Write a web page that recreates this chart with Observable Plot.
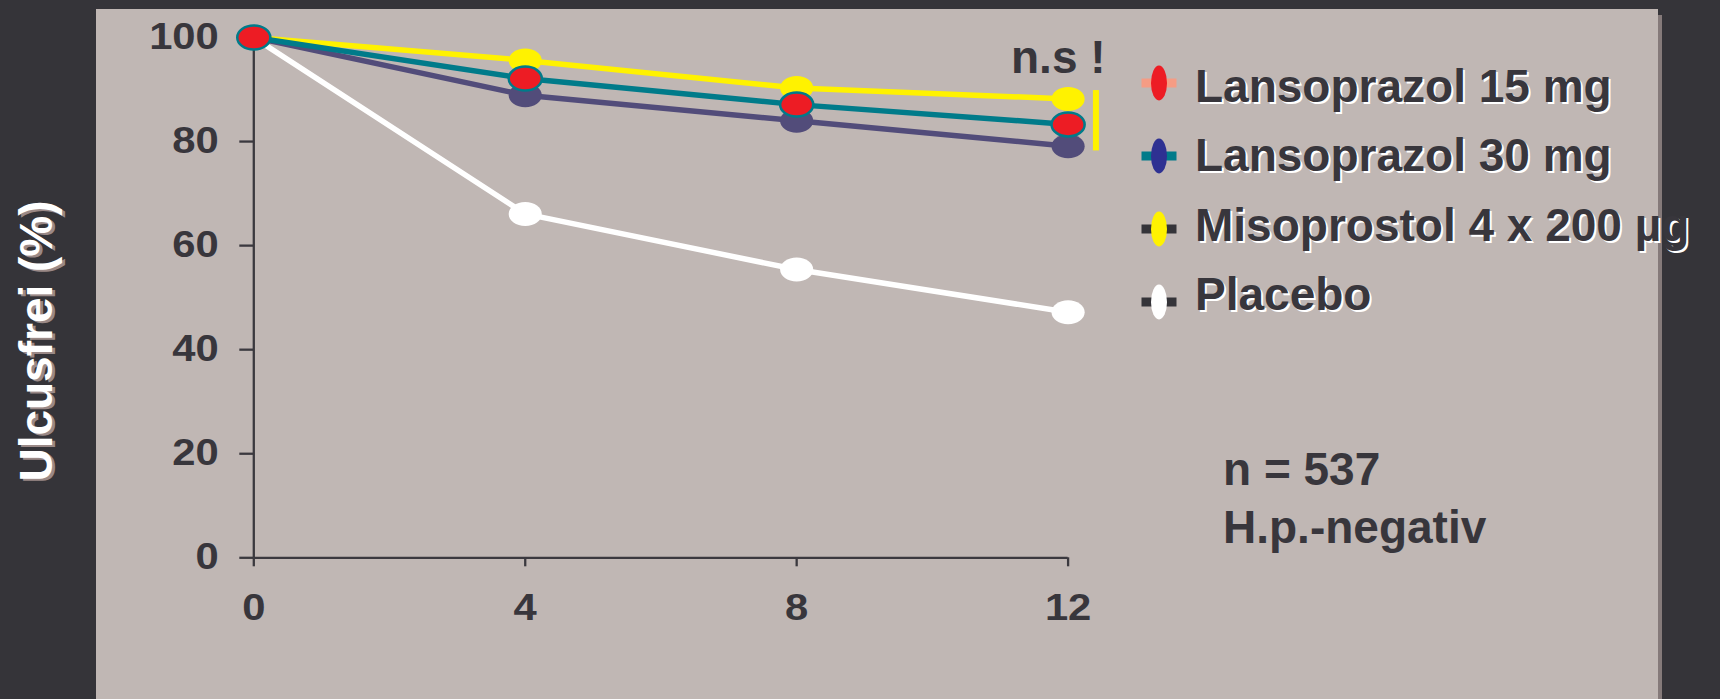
<!DOCTYPE html>
<html>
<head>
<meta charset="utf-8">
<script src="https://cdn.jsdelivr.net/npm/d3@7"></script>
<script src="https://cdn.jsdelivr.net/npm/@observablehq/plot@0.6"></script>
<style>
  html, body { margin: 0; padding: 0; background: #353439; }
  #stage { position: relative; width: 1720px; height: 699px; overflow: hidden; background: #353439;
           font-family: "Liberation Sans", Arial, Helvetica, sans-serif; font-weight: bold; }
  #panel { position: absolute; left: 96px; top: 9px; width: 1562px; height: 700px; background: #c0b7b4;
           box-shadow: 4px 6px 0 #857a7a; }
  #chart { position: absolute; left: 0; top: 0; }
  .note { position: absolute; font-size: 46px; line-height: 46px; color: #38363c; white-space: nowrap; }
  #ytitle { position: absolute; left: 36px; top: 341px; font-size: 46px; line-height: 46px; color: #fff;
            white-space: nowrap; transform: translate(-50%, -50%) rotate(-90deg);
            text-shadow: -2px 3px 0 #9a8987; }
  #legend { position: absolute; left: 0; top: 0; }
  .swatch { position: absolute; left: 1141px; }
  .ltext { position: absolute; left: 1195px; font-size: 46px; line-height: 46px; color: #38363c;
           white-space: nowrap; text-shadow: 2px 2px 0 #ffffff; }
</style>
</head>
<body>
<div id="stage">
  <div id="panel"></div>
  <div id="chart"></div>
  <div id="ytitle"></div>
  <div id="legend"></div>
  <div class="note" id="ns" style="left:1011px; top:34px;"></div>
  <div class="note" id="info1" style="left:1223px; top:446px;"></div>
  <div class="note" id="info2" style="left:1223px; top:504px;"></div>
</div>
<script>
// Weeks of treatment and share of patients still ulcer-free (%)
const weeks = [0, 4, 8, 12];
const lanso15 = [100, 92.1, 87.1, 83.3];
const lanso30 = [100, 88.9, 84.0, 79.1];
const miso = [100, 95.6, 90.3, 88.2];
const placebo = [100, 66.1, 55.4, 47.2];

const seriesNames = ["Lansoprazol 15 mg", "Lansoprazol 30 mg", "Misoprostol 4 x 200 µg", "Placebo"];
const xTicks = [0, 4, 8, 12];
const yTicks = [0, 20, 40, 60, 80, 100];
const yTitle = "Ulcusfrei (%)";
const nsLabel = "n.s !";
const infoLines = ["n = 537", "H.p.-negativ"];
// bracket marking the non-significant difference at week 12
const nsBracket = [{week: 12.41, from: 78.2, to: 89.8}];

// chart colours per series: line, marker fill, marker outline
const lineColor = {"Lansoprazol 15 mg": "#007b8a", "Lansoprazol 30 mg": "#524c7a", "Misoprostol 4 x 200 µg": "#fff200", "Placebo": "#ffffff"};
const dotFill = {"Lansoprazol 15 mg": "#ed1c24", "Lansoprazol 30 mg": "#524c7a", "Misoprostol 4 x 200 µg": "#fff200", "Placebo": "#ffffff"};
const dotStroke = {"Lansoprazol 15 mg": "#007b8a", "Lansoprazol 30 mg": "none", "Misoprostol 4 x 200 µg": "none", "Placebo": "none"};
// legend swatch colours: bar behind marker, marker
const legendBar = ["#f59c84", "#007b8a", "#353439", "#353439"];
const legendDot = ["#ed1c24", "#2e3192", "#fff200", "#ffffff"];

const valuesBySeries = [lanso15, lanso30, miso, placebo];
const rows = seriesNames.flatMap((s, k) => weeks.map((w, i) => ({series: s, week: w, value: valuesBySeries[k][i]})));
const of = (s) => rows.filter((d) => d.series === s);

// flat ellipse marker
const ellipse = {
  draw(ctx, size) {
    const r = Math.sqrt(size / Math.PI), rx = r * 1.38, ry = r, k = 0.5523;
    ctx.moveTo(rx, 0);
    ctx.bezierCurveTo(rx, ry * k, rx * k, ry, 0, ry);
    ctx.bezierCurveTo(-rx * k, ry, -rx, ry * k, -rx, 0);
    ctx.bezierCurveTo(-rx, -ry * k, -rx * k, -ry, 0, -ry);
    ctx.bezierCurveTo(rx * k, -ry, rx, -ry * k, rx, 0);
    ctx.closePath();
  }
};

const drawOrder = ["Placebo", "Misoprostol 4 x 200 µg", "Lansoprazol 30 mg", "Lansoprazol 15 mg"];
const axisColor = "#3b393f";

const chart = Plot.plot({
  width: 1720,
  height: 699,
  marginLeft: 253.3,
  marginRight: 652.4,
  marginTop: 37,
  marginBottom: 141.7,
  x: {domain: [0, 12]},
  y: {domain: [0, 100]},
  style: {background: "transparent", color: "#38363c", fontFamily: "'Liberation Sans', Arial, sans-serif",
          fontSize: "36px", fontWeight: "bold", overflow: "visible"},
  marks: [
    Plot.ruleX([0], {y1: 0, y2: 100, stroke: axisColor, strokeWidth: 2.3}),
    Plot.ruleY([0], {x1: 0, x2: 12, stroke: axisColor, strokeWidth: 2.3}),
    Plot.axisY({ticks: yTicks, tickSize: 14, tickPadding: 21, label: null, stroke: axisColor, strokeWidth: 2.3}),
    Plot.axisX({ticks: xTicks, tickSize: 9, tickPadding: 28, label: null, stroke: axisColor, strokeWidth: 2.3}),
    ...drawOrder.map((s) => Plot.line(of(s), {x: "week", y: "value", stroke: lineColor[s], strokeWidth: 5.5})),
    ...drawOrder.map((s) => Plot.dot(of(s), {x: "week", y: "value", r: 12, symbol: ellipse,
      fill: dotFill[s], stroke: dotStroke[s], strokeWidth: 2.5})),
    Plot.ruleX(nsBracket, {x: "week", y1: "from", y2: "to", stroke: "#fff200", strokeWidth: 6})
  ]
});

// widen the bold tick numerals
chart.querySelectorAll('g[aria-label$="tick label"] text').forEach((t) => {
  const tr = t.getAttribute("transform") || "";
  t.setAttribute("transform", tr + " scale(1.16,1)");
});

document.getElementById("chart").appendChild(chart);
document.getElementById("ytitle").textContent = yTitle;
document.getElementById("ns").textContent = nsLabel;
document.getElementById("info1").textContent = infoLines[0];
document.getElementById("info2").textContent = infoLines[1];

// legend: short bar with an upright ellipse, then the series name
const legend = d3.select("#legend");
seriesNames.forEach((name, i) => {
  const cy = 83.3 + 72.8 * i;          // swatch centre
  const baseline = 101.7 + 69.4 * i;   // text baseline
  const sw = legend.append("svg").attr("class", "swatch")
    .attr("width", 36).attr("height", 40).style("top", `${cy - 20}px`);
  sw.append("rect").attr("x", 0.5).attr("y", 15.5).attr("width", 35).attr("height", 9).attr("fill", legendBar[i]);
  sw.append("ellipse").attr("cx", 18).attr("cy", 20).attr("rx", 8).attr("ry", 17.5).attr("fill", legendDot[i]);
  legend.append("div").attr("class", "ltext").style("top", `${baseline - 39}px`).text(name);
});
</script>
</body>
</html>
